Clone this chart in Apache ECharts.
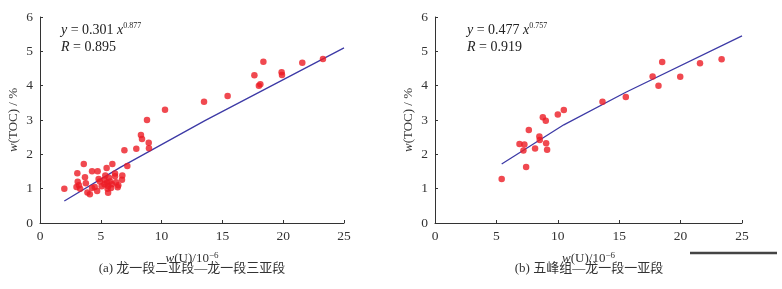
<!doctype html>
<html lang="zh">
<head>
    <meta charset="utf-8">
    <title>w(U) - w(TOC)</title>
    <script src="https://cdn.jsdelivr.net/npm/echarts@6/dist/echarts.min.js"></script>
    <style>
        html, body { margin: 0; padding: 0; background: #fff; }
    </style>
</head>
<body>
    <div id="main" style="width: 782px;height:289px;"></div>
    <script type="text/javascript">
    // (a) 龙一段二亚段—龙一段三亚段 : [w(U), w(TOC)]
    var pointsA = [
        [2.0, 1.0], [3.6, 1.72], [3.07, 1.45], [3.1, 1.2], [3.2, 1.1], [3.0, 1.05],
        [3.3, 1.0], [3.7, 1.33], [3.77, 1.16], [3.9, 0.89], [4.1, 0.84], [4.28, 1.51],
        [4.28, 1.02], [4.5, 1.05], [4.74, 1.51], [4.7, 0.93], [4.82, 1.28], [4.93, 1.21],
        [5.07, 1.07], [5.3, 1.13], [5.3, 1.26], [5.37, 1.38], [5.48, 1.6], [5.5, 1.17],
        [5.6, 1.08], [5.67, 1.32], [5.76, 1.21], [5.6, 0.88], [5.56, 1.0], [5.84, 1.02],
        [5.95, 1.72], [5.92, 1.13], [6.17, 1.44], [6.17, 1.36], [6.25, 1.19], [6.39, 1.04],
        [6.44, 1.1], [6.74, 1.26], [6.77, 1.38], [6.94, 2.12], [7.18, 1.66], [7.92, 2.16],
        [8.3, 2.56], [8.39, 2.45], [8.8, 3.0], [8.94, 2.34], [8.96, 2.18], [10.28, 3.3],
        [13.49, 3.53], [15.43, 3.7], [17.63, 4.3], [18.37, 4.7], [18.0, 4.0], [18.12, 4.04],
        [19.87, 4.39], [19.9, 4.31], [21.57, 4.67], [23.27, 4.78]
    ];
    // fitted curve as drawn, y = 0.301 x^0.877
    var fitA = [[2.0, 0.64], [6.6, 1.62], [13.6, 2.99], [25, 5.1]];

    // (b) 五峰组—龙一段一亚段
    var pointsB = [
        [5.43, 1.28], [6.88, 2.3], [7.28, 2.29], [7.2, 2.11], [7.42, 1.63], [7.64, 2.71],
        [8.15, 2.17], [8.5, 2.52], [8.53, 2.42], [8.78, 3.08], [9.02, 2.98], [9.05, 2.32],
        [9.13, 2.13], [10.0, 3.16], [10.49, 3.29], [13.64, 3.53], [15.54, 3.67], [17.72, 4.27],
        [18.5, 4.69], [18.2, 4.0], [19.97, 4.26], [21.58, 4.65], [23.34, 4.77]
    ];
    // fitted curve as drawn, y = 0.477 x^0.757
    var fitB = [[5.43, 1.72], [10.49, 2.86], [15.5, 3.8], [25, 5.45]];

    var xTicks = [0, 5, 10, 15, 20, 25];
    var yTicks = [0, 1, 2, 3, 4, 5, 6];

    var captionA = '(a) 龙一段二亚段—龙一段三亚段';
    var captionB = '(b) 五峰组—龙一段一亚段';
    var eqA = ['0.301', '0.877', '0.895'];
    var eqB = ['0.477', '0.757', '0.919'];

    var serif = '"Liberation Serif", "Times New Roman", serif';
    var axisColor = '#333';

    function xAxisFor(idx) {
        return {
            gridIndex: idx, type: 'value', min: xTicks[0], max: xTicks[xTicks.length - 1], interval: 5,
            name: '{i|w}(U)/10{sup|−6}', nameLocation: 'middle', nameGap: 28,
            nameTextStyle: {
                fontFamily: serif, fontSize: 13, color: axisColor,
                rich: {
                    i: { fontFamily: serif, fontStyle: 'italic', fontSize: 13, color: axisColor },
                    sup: { fontFamily: serif, fontSize: 9, color: axisColor, verticalAlign: 'top', padding: [0, 0, 6, 0] }
                }
            },
            axisLine: { lineStyle: { color: axisColor, width: 1 } },
            axisTick: { inside: true, length: 3, lineStyle: { color: axisColor } },
            axisLabel: { fontFamily: serif, fontSize: 13.5, color: axisColor, margin: 6 },
            splitLine: { show: false }
        };
    }

    function yAxisFor(idx) {
        return {
            gridIndex: idx, type: 'value', min: yTicks[0], max: yTicks[yTicks.length - 1], interval: 1,
            name: '{i|w}(TOC) / %', nameLocation: 'middle', nameGap: 20,
            nameTextStyle: {
                fontFamily: serif, fontSize: 13, color: axisColor,
                rich: { i: { fontFamily: serif, fontStyle: 'italic', fontSize: 13, color: axisColor } }
            },
            axisLine: { show: true, lineStyle: { color: axisColor, width: 1 } },
            axisTick: { show: true, inside: true, length: 3, lineStyle: { color: axisColor } },
            axisLabel: { fontFamily: serif, fontSize: 13.5, color: axisColor, margin: 7 },
            splitLine: { show: false }
        };
    }

    function eqText(left, vals) {
        return {
            type: 'text', left: left, top: 22,
            style: {
                text: '{i|y} = ' + vals[0] + ' {i|x}{sup|' + vals[1] + '}\n{i|R} = ' + vals[2],
                fontFamily: serif, fontSize: 14, fill: '#222', lineHeight: 17,
                rich: {
                    i: { fontFamily: serif, fontStyle: 'italic', fontSize: 14, fill: '#222', lineHeight: 17 },
                    sup: { fontFamily: serif, fontSize: 8, fill: '#222', verticalAlign: 'top', padding: [0, 0, 8, 0], lineHeight: 17 }
                }
            }
        };
    }

    var myChart = echarts.init(document.getElementById('main'), null, { renderer: 'canvas' });

    var option = {
        animation: false,
        backgroundColor: '#fff',
        grid: [
            { left: 40, top: 17, width: 304, height: 206 },
            { left: 435, top: 17, width: 307, height: 206 }
        ],
        xAxis: [xAxisFor(0), xAxisFor(1)],
        yAxis: [yAxisFor(0), yAxisFor(1)],
        series: [
            { type: 'line', xAxisIndex: 0, yAxisIndex: 0, data: fitA, showSymbol: false,
              lineStyle: { color: '#3d3aa6', width: 1.3 }, z: 2 },
            { type: 'scatter', xAxisIndex: 0, yAxisIndex: 0, data: pointsA, symbolSize: 6.5,
              itemStyle: { color: '#ec1c24' }, z: 3 },
            { type: 'line', xAxisIndex: 1, yAxisIndex: 1, data: fitB, showSymbol: false,
              lineStyle: { color: '#3d3aa6', width: 1.3 }, z: 2 },
            { type: 'scatter', xAxisIndex: 1, yAxisIndex: 1, data: pointsB, symbolSize: 6.5,
              itemStyle: { color: '#ec1c24' }, z: 3 }
        ],
        graphic: [
            eqText(61, eqA),
            eqText(467, eqB),
            { type: 'text', x: 192, y: 269, style: { text: captionA, fontFamily: serif + ', "Noto Sans CJK SC"',
              fontSize: 13, fill: '#333', align: 'center', verticalAlign: 'middle' } },
            { type: 'text', x: 589, y: 269, style: { text: captionB, fontFamily: serif + ', "Noto Sans CJK SC"',
              fontSize: 13, fill: '#333', align: 'center', verticalAlign: 'middle' } },
            // the dark rule at the bottom right of the figure
            { type: 'line', shape: { x1: 690, y1: 253, x2: 777, y2: 253 },
              style: { stroke: '#444', lineWidth: 2.5 } }
        ]
    };

    myChart.setOption(option);
    </script>
</body>
</html>
